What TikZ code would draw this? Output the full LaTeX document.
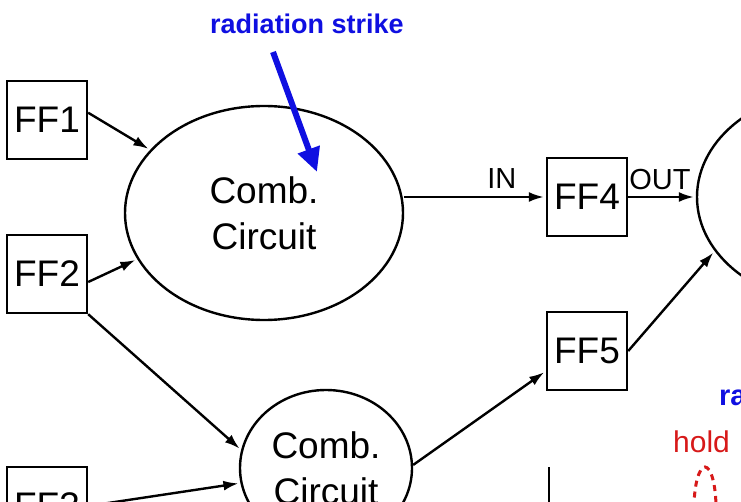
\documentclass[tikz,border=0pt]{standalone}
\usepackage{fontspec}
\setmainfont{Liberation Sans}
\usetikzlibrary{arrows.meta,shapes.geometric}
\definecolor{strikeblue}{RGB}{15,15,225}
\definecolor{holdred}{RGB}{215,25,25}
\begin{document}
\begin{tikzpicture}[x=1pt,y=-1pt, line width=2.4pt,
  ffbox/.style={draw, minimum width=80pt, minimum height=78pt, inner sep=0pt, font=\fontsize{37}{40}\selectfont},
  comb/.style={draw, ellipse, inner sep=0pt, align=center, font=\fontsize{37}{46}\selectfont},
  conn/.style={-{Latex[length=15pt,width=10pt]}, shorten >=2pt},
  lbl/.style={font=\fontsize{29}{30}\selectfont, anchor=base}]
\useasboundingbox (0,0) rectangle (741,502);
\clip (0,0) rectangle (741,502);
% flip-flops
\node[ffbox] (ff1) at (47,120) {FF1};
\node[ffbox] (ff2) at (47,274) {FF2};
\node[ffbox] (ff3) at (47,506) {FF3};
\node[ffbox] (ff4) at (587,197) {FF4};
\node[ffbox] (ff5) at (587,351) {FF5};
% combinational circuits
\node[comb, minimum width=278pt, minimum height=214pt] (c1) at (264,213) {Comb.\\Circuit};
\node[comb, minimum width=172pt, minimum height=156pt] (c2) at (326,468) {Comb.\\Circuit};
\node[draw, ellipse, minimum width=278pt, minimum height=214pt] (c3) at (836,197) {};
% connectors
\draw[conn] (ff1.10) -- (c1.151);
\draw[conn] (ff2.-11) -- (c1.200);
\draw[conn] (ff2.south east) -- (c2.168);
\draw[conn] (ff3.east) -- (c2.190);
\draw[conn] (c2.2) -- (ff5.206);
\draw[conn] (ff5.east) -- (c3.204);
\draw[conn] (c1.east |- ff4.west) -- node[lbl, pos=0.69, yshift=8pt] (inlbl) {IN} (ff4.west);
\draw[conn] (ff4.east) -- node[lbl, pos=0.47, yshift=7pt] (outlbl) {OUT} (c3.west);
% radiation strike
\node[font=\bfseries\fontsize{27}{30}\selectfont, text=strikeblue] (rs) at (307,24) {radiation strike};
\coordinate (rsstart) at (273,52);
\coordinate (rshit) at (317,172);
\draw[strikeblue, line width=6pt, -{Triangle[length=24pt,width=22pt]}] (rsstart) -- (rshit);
% right-hand fragment
\node[font=\bfseries\fontsize{29}{30}\selectfont, text=strikeblue, anchor=base west, inner sep=0pt] (rs2) at (718,405) {radiation strike};
\node[font=\fontsize{30}{32}\selectfont, text=holdred, anchor=base west, inner sep=0pt] (hold) at (672,452) {hold};
\draw[holdred, line width=3pt, dash pattern=on 6pt off 5pt] (705,508) ellipse [x radius=11, y radius=41];
\coordinate (vtop) at (549,467);
\coordinate (vbot) at (549,510);
\draw[line width=2.5pt] (vtop) -- (vbot);
\end{tikzpicture}
\end{document}
